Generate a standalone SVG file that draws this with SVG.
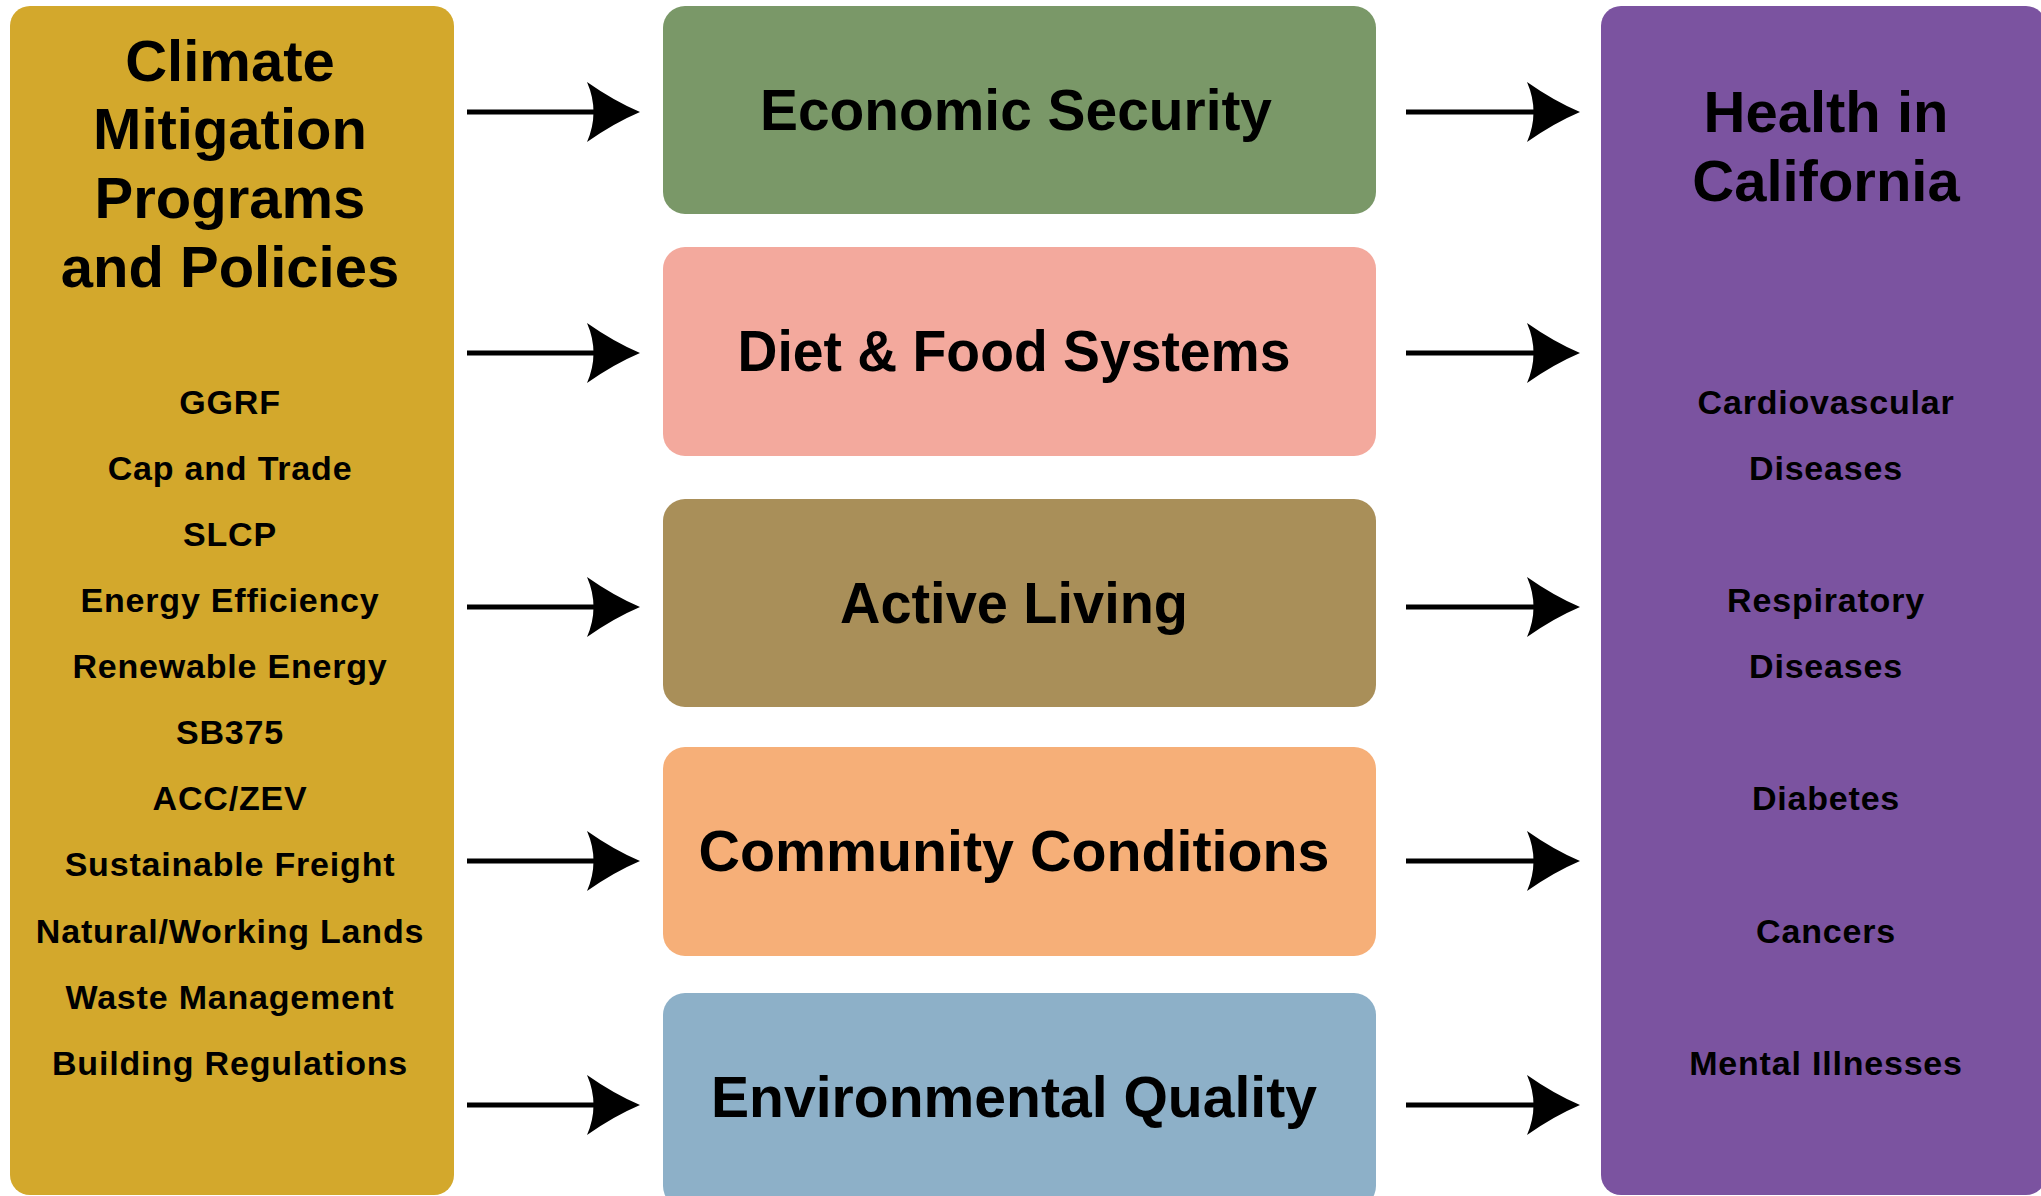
<svg xmlns="http://www.w3.org/2000/svg" width="2041" height="1196" viewBox="0 0 2041 1196">
<defs>
<style>
.title{font-family:"Liberation Sans",Arial,sans-serif;font-weight:bold;font-size:58px;fill:#000;text-anchor:middle}
.item{font-family:"Liberation Sans",Arial,sans-serif;font-weight:bold;font-size:34px;letter-spacing:0.8px;fill:#000;text-anchor:middle}
.line{stroke:#000;stroke-width:5;fill:none}
.head{fill:#000}
</style>
<path id="ah" d="M0,0 Q-26,11 -53,30 Q-40,0 -53,-30 Q-26,-11 0,0 Z"/>
</defs>
<rect width="2041" height="1196" fill="#fff"/>

<g id="node-left">
<rect x="10" y="6" width="444" height="1189" rx="20" fill="#D3A82C"/>
<text class="title" x="230" y="81">Climate</text>
<text class="title" x="230" y="149">Mitigation</text>
<text class="title" x="230" y="218">Programs</text>
<text class="title" x="230" y="287">and Policies</text>
<text class="item" x="230" y="414">GGRF</text>
<text class="item" x="230" y="480">Cap and Trade</text>
<text class="item" x="230" y="546">SLCP</text>
<text class="item" x="230" y="612">Energy Efficiency</text>
<text class="item" x="230" y="678">Renewable Energy</text>
<text class="item" x="230" y="744">SB375</text>
<text class="item" x="230" y="810">ACC/ZEV</text>
<text class="item" x="230" y="876">Sustainable Freight</text>
<text class="item" x="230" y="943">Natural/Working Lands</text>
<text class="item" x="230" y="1009">Waste Management</text>
<text class="item" x="230" y="1075">Building Regulations</text>
</g>

<g id="node-economic">
<rect x="663" y="6" width="713" height="208" rx="22" fill="#7A9868"/>
<text class="title" x="1016" y="130" textLength="512" lengthAdjust="spacingAndGlyphs">Economic Security</text>
</g>
<g id="node-diet">
<rect x="663" y="247" width="713" height="209" rx="22" fill="#F3A99D"/>
<text class="title" x="1014" y="371" textLength="553" lengthAdjust="spacingAndGlyphs">Diet &amp; Food Systems</text>
</g>
<g id="node-active">
<rect x="663" y="499" width="713" height="208" rx="22" fill="#A98F59"/>
<text class="title" x="1014" y="623" textLength="348" lengthAdjust="spacingAndGlyphs">Active Living</text>
</g>
<g id="node-community">
<rect x="663" y="747" width="713" height="209" rx="22" fill="#F6AF78"/>
<text class="title" x="1014" y="871" textLength="631" lengthAdjust="spacingAndGlyphs">Community Conditions</text>
</g>
<g id="node-environmental">
<rect x="663" y="993" width="713" height="215" rx="22" fill="#8DB0C8"/>
<text class="title" x="1014" y="1117" textLength="606" lengthAdjust="spacingAndGlyphs">Environmental Quality</text>
</g>

<g id="node-right">
<rect x="1601" y="6" width="445" height="1189" rx="20" fill="#7B53A0"/>
<text class="title" x="1826" y="132">Health in</text>
<text class="title" x="1826" y="201">California</text>
<text class="item" x="1826" y="414">Cardiovascular</text>
<text class="item" x="1826" y="480">Diseases</text>
<text class="item" x="1826" y="612">Respiratory</text>
<text class="item" x="1826" y="678">Diseases</text>
<text class="item" x="1826" y="810">Diabetes</text>
<text class="item" x="1826" y="943">Cancers</text>
<text class="item" x="1826" y="1075">Mental Illnesses</text>
</g>

<g id="connectors">
<line class="line" x1="467" y1="112" x2="615" y2="112"/><use href="#ah" x="640" y="112"/>
<line class="line" x1="467" y1="353" x2="615" y2="353"/><use href="#ah" x="640" y="353"/>
<line class="line" x1="467" y1="607" x2="615" y2="607"/><use href="#ah" x="640" y="607"/>
<line class="line" x1="467" y1="861" x2="615" y2="861"/><use href="#ah" x="640" y="861"/>
<line class="line" x1="467" y1="1105" x2="615" y2="1105"/><use href="#ah" x="640" y="1105"/>
<line class="line" x1="1406" y1="112" x2="1555" y2="112"/><use href="#ah" x="1580" y="112"/>
<line class="line" x1="1406" y1="353" x2="1555" y2="353"/><use href="#ah" x="1580" y="353"/>
<line class="line" x1="1406" y1="607" x2="1555" y2="607"/><use href="#ah" x="1580" y="607"/>
<line class="line" x1="1406" y1="861" x2="1555" y2="861"/><use href="#ah" x="1580" y="861"/>
<line class="line" x1="1406" y1="1105" x2="1555" y2="1105"/><use href="#ah" x="1580" y="1105"/>
</g>
</svg>
